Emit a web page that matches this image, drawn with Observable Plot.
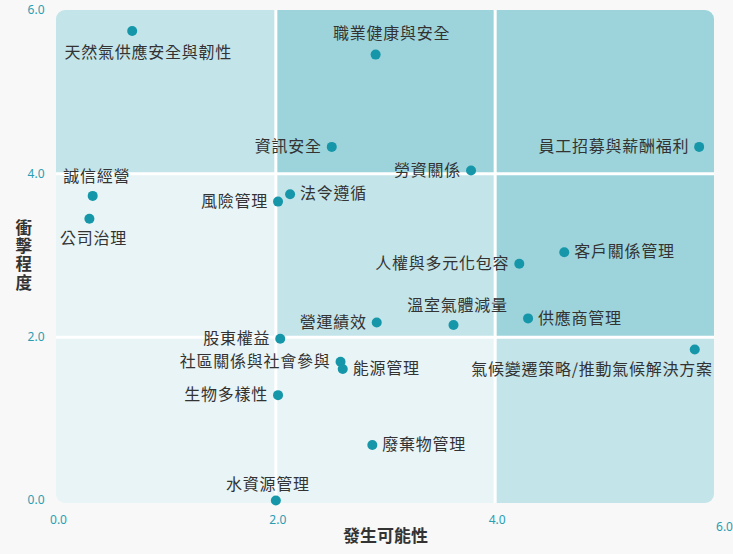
<!DOCTYPE html>
<html>
<head>
<meta charset="utf-8">
<script src="https://cdn.jsdelivr.net/npm/d3@7"></script>
<script src="https://cdn.jsdelivr.net/npm/@observablehq/plot@0.6"></script>
<style>
  html, body { margin: 0; padding: 0; background: #f8f8f8; }
  #chart { width: 733px; height: 554px; }
  g[font-size="16"] text { letter-spacing: 0.75px; }
</style>
</head>
<body>
<div id="chart"></div>
<script>
// ---- data ----
const topics = [
  "天然氣供應安全與韌性", "職業健康與安全", "資訊安全", "員工招募與薪酬福利", "勞資關係",
  "誠信經營", "公司治理", "風險管理", "法令遵循", "客戶關係管理",
  "人權與多元化包容", "營運績效", "溫室氣體減量", "供應商管理", "股東權益",
  "社區關係與社會參與", "能源管理", "氣候變遷策略/推動氣候解決方案", "生物多樣性", "廢棄物管理",
  "水資源管理"
];
const likelihood = [
  0.69, 2.91, 2.51, 5.86, 3.78,
  0.33, 0.30, 2.02, 2.13, 4.63,
  4.22, 2.92, 3.62, 4.30, 2.04,
  2.59, 2.61, 5.82, 2.02, 2.88,
  2.00
];
const impact = [
  5.75, 5.46, 4.33, 4.33, 4.04,
  3.73, 3.45, 3.66, 3.75, 3.04,
  2.90, 2.18, 2.15, 2.23, 1.98,
  1.70, 1.61, 1.85, 1.29, 0.68,
  0.00
];
const labelPlacement = [
  "bottomRight", "topRight", "left", "left", "left",
  "top", "bottom", "left", "right", "right",
  "left", "left", "top", "right", "left",
  "left", "right", "bottomLeft", "left", "right",
  "topLeft"
];
const xTicks = [0, 2, 4, 6];
const yTicks = [0, 2, 4, 6];
const bands = [0, 2, 4, 6];
const xTitle = "發生可能性";
const yTitle = "衝擊程度";
// rows bottom→top (impact 0-2, 2-4, 4-6), columns left→right (likelihood 0-2, 2-4, 4-6)
const zoneShade = [
  ["light", "light", "medium"],
  ["light", "medium", "dark"],
  ["medium", "dark", "dark"]
];
const shadeColors = { light: "#e8f4f6", medium: "#c3e4e9", dark: "#9dd4dc" };

// ---- build tables ----
const cells = [];
for (let r = 0; r < 3; r++) for (let c = 0; c < 3; c++) {
  cells.push({ x1: bands[c], x2: bands[c + 1], y1: bands[r], y2: bands[r + 1], shade: zoneShade[r][c], row: r });
}
const points = topics.map((t, i) => ({ topic: t, x: likelihood[i], y: impact[i], place: labelPlacement[i] }));
const byPlace = p => points.filter(d => d.place === p);

const labelStyle = { x: "x", y: "y", text: "topic", fill: "#333", fontSize: 16 };
const tickColor = "#2a9db3";
const fmt = d3.format(".1f");

const plot = Plot.plot({
  width: 733,
  height: 554,
  marginLeft: 56,
  marginRight: 19,
  marginTop: 10,
  marginBottom: 54,
  x: { domain: [0, 6], label: null },
  y: { domain: [0, 6], label: null },
  style: { background: "transparent", fontFamily: "'Noto Sans CJK TC', 'Noto Sans', sans-serif", overflow: "visible" },
  marks: [
    Plot.rect(cells.filter(d => d.row > 0), { x1: "x1", x2: "x2", y1: "y1", y2: "y2", fill: d => shadeColors[d.shade] }),
    Plot.rect(cells.filter(d => d.row === 0), { x1: "x1", x2: "x2", y1: "y1", y2: "y2", fill: d => shadeColors[d.shade], insetBottom: -3 }),
    Plot.ruleX([2, 4], { stroke: "#fff", strokeWidth: 3, insetBottom: -3 }),
    Plot.ruleY([2, 4], { stroke: "#fff", strokeWidth: 3 }),
    Plot.axisY({ ticks: yTicks, tickSize: 0, tickPadding: 12, tickFormat: fmt, color: tickColor, fontSize: 12, fontFamily: "'Noto Sans', sans-serif", label: null }),
    Plot.axisX({ ticks: xTicks.slice(0, 3), tickSize: 0, tickPadding: 15, dx: 2, tickFormat: fmt, color: tickColor, fontSize: 12, fontFamily: "'Noto Sans', sans-serif", label: null }),
    Plot.axisX({ ticks: xTicks.slice(3), tickSize: 0, tickPadding: 22, dx: 10, tickFormat: fmt, color: tickColor, fontSize: 12, fontFamily: "'Noto Sans', sans-serif", label: null }),
    Plot.dot(points, { x: "x", y: "y", r: 5, fill: "#1597a9" }),
    Plot.text(byPlace("right"), { ...labelStyle, textAnchor: "start", dx: 10 }),
    Plot.text(byPlace("left"), { ...labelStyle, textAnchor: "end", dx: -10 }),
    Plot.text(byPlace("top"), { ...labelStyle, textAnchor: "middle", dx: 4, dy: -19 }),
    Plot.text(byPlace("topRight"), { ...labelStyle, textAnchor: "middle", dx: 16, dy: -21 }),
    Plot.text(byPlace("topLeft"), { ...labelStyle, textAnchor: "middle", dx: -8, dy: -16 }),
    Plot.text(byPlace("bottom"), { ...labelStyle, textAnchor: "middle", dx: 4, dy: 20 }),
    Plot.text(byPlace("bottomRight"), { ...labelStyle, textAnchor: "middle", dx: 16, dy: 22 }),
    Plot.text(byPlace("bottomLeft"), { ...labelStyle, textAnchor: "end", dx: 18, dy: 20 }),
    Plot.text([xTitle], { frameAnchor: "bottom", dy: 41, fontSize: 17, fontWeight: "bold", fill: "#333" }),
    // stacked upright characters for the y-axis title
    Plot.text([yTitle], { text: d => d.split("").join("\n"), frameAnchor: "left", dx: -41, lineHeight: 1.1, fontSize: 16.5, fontWeight: "bold", fill: "#333" })
  ]
});

const svg = d3.select(plot);
// rounded outer corners of the zone area
const defs = svg.insert("defs", ":first-child");
defs.append("clipPath").attr("id", "zone-clip")
  .append("rect").attr("x", 56).attr("y", 10).attr("width", 658).attr("height", 493).attr("rx", 9).attr("ry", 9);
svg.selectAll("g[aria-label='rect'], g[aria-label='rule']").attr("clip-path", "url(#zone-clip)");

document.getElementById("chart").appendChild(plot);
</script>
</body>
</html>
